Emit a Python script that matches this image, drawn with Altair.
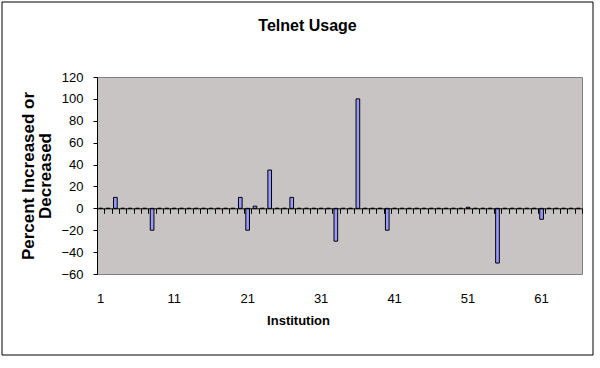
import altair as alt
import pandas as pd

# ---- data ----
institutions = list(range(1, 67))
changed_inst = [3, 8, 20, 21, 22, 24, 27, 33, 36, 40, 51, 55, 61]
changed_vals = [10, -20, 10, -20, 2, 35, 10, -30, 100, -20, 1, -50, -10]
label_values = [1, 11, 21, 31, 41, 51, 61]
y_ticks = [-60, -40, -20, 0, 20, 40, 60, 80, 100, 120]

lookup = dict(zip(changed_inst, changed_vals))
df = pd.DataFrame({
    "Institution": institutions,
    "Percent": [lookup.get(i, 0) for i in institutions],
})

FONT = "Liberation Sans"
W, H = 485, 197
Y_MIN, Y_MAX = -60, 120
zero_offset = -(H - H * (Y_MAX - 0) / (Y_MAX - Y_MIN))

x_scale = alt.Scale(domain=institutions, paddingInner=0, paddingOuter=0)
y_scale = alt.Scale(domain=[Y_MIN, Y_MAX], nice=False, zero=False)

y_axis = alt.Axis(
    orient="left",
    values=y_ticks, grid=False, domainColor="black", tickColor="black",
    tickSize=4, labelFontSize=13, labelPadding=10, labelColor="black",
    labelFont=FONT,
    title=["Percent Increased or", "Decreased"], titleFontSize=17,
    titleFontWeight="bold", titleFont=FONT, titleColor="black",
    titleX=-69, titleY=98.5, titleAngle=270, titleAlign="center",
    titleBaseline="middle", titleLineHeight=17,
)

zero_axis = alt.Axis(
    orient="bottom",
    title=None, labels=False, domain=True, domainColor="black",
    ticks=True, tickBand="extent", tickSize=5, tickColor="black",
    offset=zero_offset, zindex=1, grid=False,
)

label_axis = alt.Axis(
    orient="bottom",
    values=label_values, domain=False, ticks=False, tickSize=0,
    labelAngle=0, labelFontSize=13, labelFont=FONT, labelColor="black",
    labelPadding=18, labelBaseline="top", grid=False,
    title="Institution", titleFontSize=13, titleFontWeight="bold",
    titleFont=FONT, titleColor="black", titleX=201, titleY=46,
    titleBaseline="middle", titleAlign="center",
)

bars = alt.Chart(df).mark_bar(
    width=alt.RelativeBandSize(0.5), fill="#9999FF", stroke="black",
    strokeWidth=1,
).encode(
    x=alt.X("Institution:O", scale=x_scale, axis=zero_axis, sort=None),
    y=alt.Y("Percent:Q", scale=y_scale, axis=y_axis),
)

labels_layer = alt.Chart(df).mark_point(opacity=0).encode(
    x=alt.X("Institution:O", scale=x_scale, axis=label_axis, sort=None),
)

border = alt.Chart(pd.DataFrame({"a": [0]})).mark_rect(
    fill=None, stroke="black", strokeWidth=1,
).encode(
    x=alt.value(-95), x2=alt.value(496), y=alt.value(-75), y2=alt.value(278),
)

chart = alt.layer(bars, labels_layer, border).resolve_axis(
    x="independent"
).properties(
    width=W, height=H,
    padding={"left": 97, "top": 77, "right": 18, "bottom": 94},
    autosize="none",
    background="white",
    title=alt.TitleParams(
        text="Telnet Usage", fontSize=16, fontWeight="bold", font=FONT,
        color="black", anchor="middle", frame="group", dx=-32, offset=0,
        dy=48, baseline="bottom",
    ),
).configure_view(
    fill="#C8C4C4", stroke="#808080", strokeWidth=1,
)

chart.save("out.html", embed_options={"renderer": "svg", "actions": False})
